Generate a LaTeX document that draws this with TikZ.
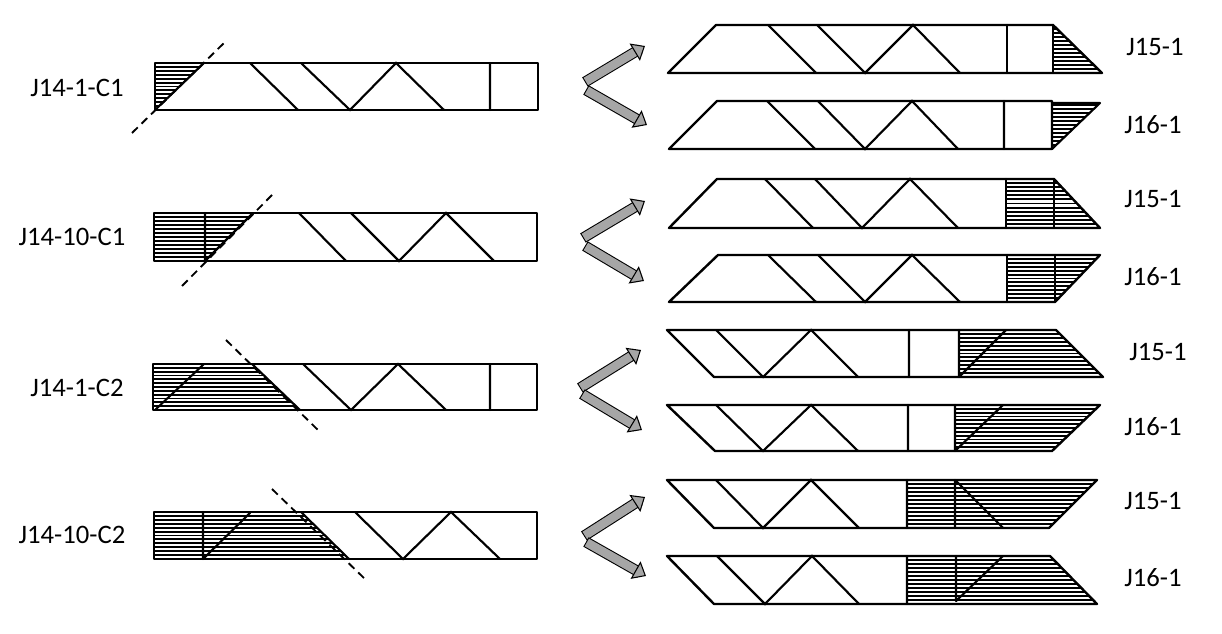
\documentclass[tikz,border=0pt]{standalone}
\usepackage{fontspec}
\setmainfont{Carlito}
\usepackage{xcolor}
\usetikzlibrary{arrows.meta}
\definecolor{arrowgray}{HTML}{A6A6A6}
\tikzstyle{beam} = [line width=1.8pt, black, line cap=round, line join=round]
\tikzstyle{web} = [line width=1.6pt, black, line cap=round]
\tikzstyle{hatchline} = [line width=1.4pt, black]
\tikzstyle{cutline} = [line width=1.4pt, black, dash pattern=on 6pt off 4pt]
\tikzstyle{label} = [font=\fontsize{20}{24}\selectfont, inner sep=0pt]
\tikzstyle{arrow} = [line width=0.8pt, black, double=arrowgray, double distance=6.5pt,
line cap=rect, shorten <=4pt,
-{Triangle[width=15pt, length=9pt, fill=arrowgray]}]
\newcommand{\hatchfill}[3]{
\begin{scope}
\clip #1;
\foreach \k in {1,...,11}
\draw [hatchline] (100,{#2+\k*(#3-#2)/12}) -- (1200,{#2+\k*(#3-#2)/12});
\end{scope}
}
\begin{document}
\begin{tikzpicture}[x=0.75pt, y=-0.75pt]
\useasboundingbox (0,0) rectangle (1222,634);

% left column
\node (c1a) [label] at (77,88) {J14-1-C1};
\node (c1b) [label] at (72,237) {J14-10-C1};
\node (c2a) [label] at (77,388) {J14-1-C2};
\node (c2b) [label] at (72,535) {J14-10-C2};

% J14-1-C1
\hatchfill{(155,63) -- (204,63) -- (155,110) -- cycle}{63}{110}
\draw [beam] (155,63) rectangle (538,110);
\draw [web] (250,63) -- (298,110) (301,63) -- (350,110) -- (396,63) -- (444,110) (490,63) -- (490,110);
\draw [web] (155,110) -- (204,63);
\draw [cutline] (132,133) -- (224,43);

% J14-10-C1
\hatchfill{(154,213) -- (253,213) -- (205,261) -- (154,261) -- cycle}{213}{261}
\draw [beam] (154,213) rectangle (537,261);
\draw [web] (299,213) -- (346,261) (351,213) -- (399,261) -- (446,213) -- (494,261);
\draw [web] (205,213) -- (205,261) (205,261) -- (253,213);
\draw [cutline] (182,286) -- (273,194);

% J14-1-C2
\hatchfill{(153,364) -- (252,364) -- (300,410) -- (153,410) -- cycle}{364}{410}
\draw [beam] (153,364) rectangle (537,410);
\draw [web] (303,364) -- (351,410) -- (398,364) -- (446,410) (490,364) -- (490,410);
\draw [web] (155,410) -- (204,364) (252,364) -- (300,410);
\draw [cutline] (226,340) -- (320,432);

% J14-10-C2
\hatchfill{(154,512) -- (301,512) -- (349,559) -- (154,559) -- cycle}{512}{559}
\draw [beam] (154,512) rectangle (537,559);
\draw [web] (355,512) -- (403,559) -- (451,512) -- (500,559);
\draw [web] (203,512) -- (203,559) (203,559) -- (250,513) (301,512) -- (349,559);
\draw [cutline] (272,489) -- (366,580);

% block arrows
\coordinate (t1u) at (585,82);  \coordinate (h1u) at (645,46);
\coordinate (t1d) at (586,90);  \coordinate (h1d) at (647,125);
\coordinate (t2u) at (583,238); \coordinate (h2u) at (645,201);
\coordinate (t2d) at (585,246); \coordinate (h2d) at (644,281);
\coordinate (t3u) at (580,388); \coordinate (h3u) at (641,350);
\coordinate (t3d) at (582,394); \coordinate (h3d) at (642,430);
\coordinate (t4u) at (584,536); \coordinate (h4u) at (645,497);
\coordinate (t4d) at (586,542); \coordinate (h4d) at (646,576);
\foreach \r in {1,2,3,4} {
\draw [arrow] (t\r u) -- (h\r u);
\draw [arrow] (t\r d) -- (h\r d);
}

% right column, first pair
\hatchfill{(1053,25) -- (1102,73) -- (1053,73) -- cycle}{25}{73}
\draw [beam] (668,73) -- (716,25) -- (1053,25) -- (1102,73) -- cycle;
\draw [web] (1053,25) -- (1053,73) (1007,25) -- (1007,73);
\draw [web] (768,25) -- (816,73) (817,25) -- (865,73) -- (913,25) -- (960,73);
\node (r1) [label] at (1155,47) {J15-1};

\hatchfill{(1052,101) -- (1100,103) -- (1052,149) -- cycle}{101}{149}
\draw [beam] (669,149) -- (717,101) -- (1052,101) -- (1052,149) -- cycle;
\draw [web] (1052,149) -- (1100,103) (1052,103) -- (1100,103) (1004,101) -- (1004,149);
\draw [web] (767,101) -- (815,149) (818,101) -- (865,149) -- (912,101) -- (958,149);
\node (r2) [label] at (1153,125) {J16-1};

% second pair
\hatchfill{(1006,179) -- (1054,179) -- (1100,228) -- (1006,228) -- cycle}{179}{228}
\draw [beam] (669,228) -- (717,179) -- (1054,179) -- (1100,228) -- cycle;
\draw [web] (1006,179) -- (1006,228) (1054,179) -- (1054,228);
\draw [web] (765,179) -- (813,228) (815,179) -- (862,228) -- (910,179) -- (958,228);
\node (r3) [label] at (1153,199) {J15-1};

\hatchfill{(1007,255) -- (1100,255) -- (1055,302) -- (1007,302) -- cycle}{255}{302}
\draw [beam] (669,302) -- (718,255) -- (1100,255) -- (1055,302) -- cycle;
\draw [web] (1007,255) -- (1007,302) (1055,255) -- (1055,302);
\draw [web] (768,255) -- (816,302) (818,255) -- (865,302) -- (912,255) -- (960,302);
\node (r4) [label] at (1153,277) {J16-1};

% third pair
\hatchfill{(959,330) -- (1056,330) -- (1103,377) -- (959,377) -- cycle}{330}{377}
\draw [beam] (667,330) -- (714,377) -- (1103,377) -- (1056,330) -- cycle;
\draw [web] (909,330) -- (909,377) (959,330) -- (959,377) (959,377) -- (1006,330);
\draw [web] (716,330) -- (763,377) -- (811,330) -- (858,377);
\node (r5) [label] at (1158,352) {J15-1};

\hatchfill{(955,405) -- (1100,405) -- (1052,451) -- (955,451) -- cycle}{405}{451}
\draw [beam] (667,405) -- (715,451) -- (1052,451) -- (1100,405) -- cycle;
\draw [web] (908,405) -- (908,451) (955,405) -- (955,451) (955,451) -- (1003,405);
\draw [web] (716,405) -- (763,451) -- (811,405) -- (858,451);
\node (r6) [label] at (1153,427) {J16-1};

% fourth pair
\hatchfill{(907,480) -- (1097,480) -- (1049,528) -- (907,528) -- cycle}{480}{528}
\draw [beam] (667,480) -- (714,528) -- (1049,528) -- (1097,480) -- cycle;
\draw [web] (907,480) -- (907,528) (955,480) -- (955,528) (955,480) -- (1003,528);
\draw [web] (716,480) -- (763,528) -- (811,480) -- (859,528);
\node (r7) [label] at (1153,501) {J15-1};

\hatchfill{(907,556) -- (1050,556) -- (1097,604) -- (907,604) -- cycle}{556}{604}
\draw [beam] (667,556) -- (714,604) -- (1097,604) -- (1050,556) -- cycle;
\draw [web] (907,556) -- (907,604) (956,556) -- (956,601) (956,601) -- (1003,556);
\draw [web] (717,556) -- (765,604) -- (812,556) -- (859,604);
\node (r8) [label] at (1153,578) {J16-1};
\end{tikzpicture}
\end{document}
